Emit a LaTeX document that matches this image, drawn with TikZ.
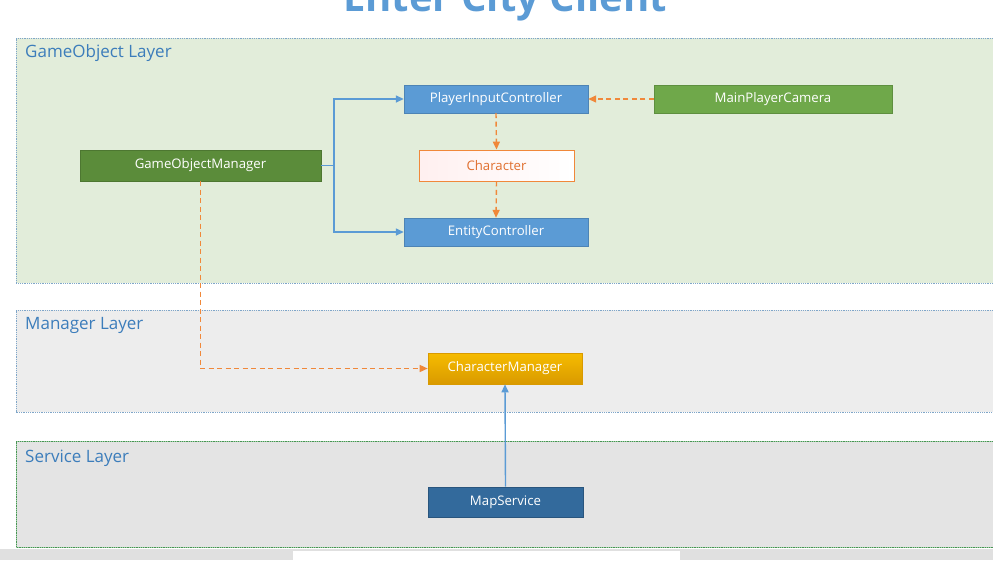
\documentclass[tikz,border=0pt]{standalone}
\usepackage{fontspec}
\setmainfont{Open Sans}
\usetikzlibrary{arrows.meta}
\definecolor{goFill}{HTML}{E2EDDA}
\definecolor{mgFill}{HTML}{EDEDED}
\definecolor{svFill}{HTML}{E4E4E4}
\definecolor{layerLine}{HTML}{7FA6C9}
\definecolor{svLine}{HTML}{5DB56A}
\definecolor{layerText}{HTML}{3C7DBB}
\definecolor{blueBox}{HTML}{5B9BD5}
\definecolor{greenBox}{HTML}{6FA84A}
\definecolor{dgreenBox}{HTML}{5B8C3A}
\definecolor{orangeC}{HTML}{F0883A}
\definecolor{charText}{HTML}{E07030}
\definecolor{yellowBox}{HTML}{F5B400}
\definecolor{yellowLine}{HTML}{D99A00}
\definecolor{mapBox}{HTML}{336A9C}
\definecolor{titleBlue}{HTML}{5B9BD5}
\tikzset{
  layer/.style={draw=layerLine, densely dotted, line width=0.8pt},
  layerlabel/.style={anchor=west, text=layerText, font=\fontsize{17}{20}\selectfont, inner sep=0pt},
  box/.style={minimum height=28pt, inner sep=0pt, font=\fontsize{13.2}{15}\selectfont, text=white},
  bluebox/.style={box, fill=blueBox, draw=blueBox!85!black, line width=0.4pt},
  solidarrow/.style={draw=blueBox, line width=1.4pt, -{Triangle[length=8pt,width=7pt]}},
  dasharrow/.style={draw=orangeC, line width=1.4pt, dash pattern=on 5pt off 3.5pt, -{Triangle[length=8pt,width=7pt]}},
}
\begin{document}
\begin{tikzpicture}[x=1pt,y=-1pt]
\useasboundingbox (0,0) rectangle (993,560);
\fill[white] (0,0) rectangle (993,560);
\begin{scope}
\clip (0,0) rectangle (993,560);
% title (cut off at the top, as in the reference)
\node[anchor=base, text=titleBlue, font=\bfseries\fontsize{40}{44}\selectfont, inner sep=0pt] (title) at (505,11) {Enter City Client};
% layers
\fill[goFill] (16,38) rectangle (1000,283);
\draw[layer] (1000,38) -- (16,38) -- (16,283) -- (1000,283);
\fill[mgFill] (16,310) rectangle (1000,412);
\draw[layer] (1000,310) -- (16,310) -- (16,412) -- (1000,412);
\fill[svFill] (16,441) rectangle (1000,547);
\draw[draw=svLine!60, line width=0.8pt] (1000,441) -- (16,441) -- (16,547) -- (1000,547);
\draw[draw=svLine!80!black, densely dotted, line width=0.8pt] (1000,441) -- (16,441) -- (16,547) -- (1000,547);
% scrollbar strip
\fill[black!12] (0,549) rectangle (993,560);
\fill[white] (293,551) rectangle (680,560);
\end{scope}
\node[layerlabel] (l1) at (25,53) {GameObject Layer};
\node[layerlabel] (l2) at (25,325) {Manager Layer};
\node[layerlabel] (l3) at (25,458) {Service Layer};
% nodes
\node[bluebox, minimum width=184pt] (pic) at (496,99) {PlayerInputController};
\node[box, fill=greenBox, draw=greenBox!85!black, line width=0.4pt, minimum width=238pt] (mpc) at (773,99) {MainPlayerCamera};
\node[box, left color=red!6, right color=white, draw=orangeC, line width=0.9pt, text=charText, minimum width=155pt, minimum height=31pt] (chr) at (496.5,165.5) {Character};
\node[box, fill=dgreenBox, draw=dgreenBox!85!black, line width=0.4pt, minimum width=241pt, minimum height=31pt] (gom) at (200.5,165.5) {GameObjectManager};
\node[bluebox, minimum width=184pt] (ec) at (496,232) {EntityController};
\node[box, top color=yellowBox!90!yellow, bottom color=yellowLine, draw=yellowLine, line width=0.6pt, minimum width=154pt, minimum height=31pt] (cm) at (505,368.5) {CharacterManager};
\node[box, fill=mapBox, draw=mapBox!80!black, line width=0.6pt, minimum width=155pt, minimum height=30pt] (ms) at (505.5,502) {MapService};
% connectors
\coordinate (j) at (334,165.5);
\draw[draw=blueBox, line width=1.4pt] (gom.east) -- (j);
\draw[solidarrow] (j) |- (pic.west);
\draw[solidarrow] (j) |- (ec.west);
\draw[dasharrow] (mpc.west) -- (pic.east);
\draw[dasharrow] (pic.south) -- (chr.north);
\draw[dasharrow] (chr.south) -- (ec.north);
\draw[dasharrow] (gom.south) |- (cm.west);
\draw[solidarrow] (ms.north) -- (cm.south);
\end{tikzpicture}
\end{document}
